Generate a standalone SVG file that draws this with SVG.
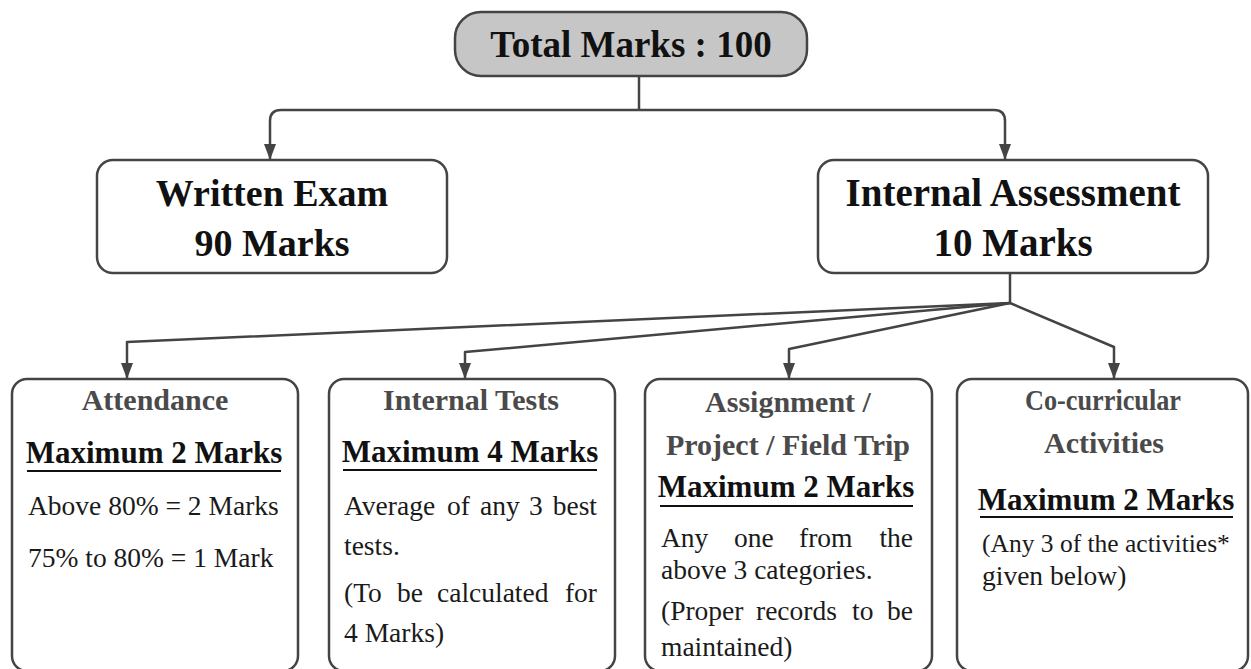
<svg xmlns="http://www.w3.org/2000/svg" width="1251" height="669" viewBox="0 0 1251 669" font-family="'Liberation Serif', 'DejaVu Serif', serif">
<defs>
<style>
text{font-family:'Liberation Serif','DejaVu Serif',serif}
.box{fill:#ffffff;stroke:#444444;stroke-width:2.5}
.top{fill:#c6c6c6;stroke:#444444;stroke-width:2.5}
.t1{font-weight:bold;fill:#111111;text-anchor:middle}
.hd{font-weight:bold;font-size:30px;fill:#4a4a4a;text-anchor:middle}
.mx{font-weight:bold;font-size:31px;fill:#111111;text-anchor:middle}
.bd{font-size:27.5px;fill:#1a1a1a}
.sm{font-size:25.5px}
.ul{stroke:#111111;stroke-width:2.2}
.con{fill:none;stroke:#444444;stroke-width:2.5;stroke-linejoin:round}
</style>
<marker id="arr" markerUnits="userSpaceOnUse" markerWidth="17" markerHeight="16" refX="15" refY="8" orient="auto">
<path d="M0,2 L16,8 L0,14 Z" fill="#444444"/>
</marker>
</defs>
<rect width="1251" height="669" fill="#ffffff"/>

<g id="connectors">
<path class="con" d="M639,76 V110"/>
<path class="con" d="M639,110 H281 Q270,110 270,121 V159" marker-end="url(#arr)"/>
<path class="con" d="M639,110 H994 Q1005,110 1005,121 V159" marker-end="url(#arr)"/>
<path class="con" d="M1010,273 V303"/>
<path class="con" d="M1010,303 L127,342 V378" marker-end="url(#arr)"/>
<path class="con" d="M1010,303 L465,352 V378" marker-end="url(#arr)"/>
<path class="con" d="M1010,303 L789,349 V378" marker-end="url(#arr)"/>
<path class="con" d="M1010,303 L1114,347 V378" marker-end="url(#arr)"/>
</g>

<g id="total">
<rect class="top" x="455" y="12" width="352" height="64" rx="26"/>
<text class="t1" x="631" y="57" font-size="37">Total Marks : 100</text>
</g>

<g id="written">
<rect class="box" x="97" y="160" width="350" height="113" rx="16"/>
<text class="t1" x="272" y="206" font-size="38">Written Exam</text>
<text class="t1" x="272" y="256" font-size="38">90 Marks</text>
</g>

<g id="internal">
<rect class="box" x="818" y="160" width="390" height="113" rx="16"/>
<text class="t1" x="1013" y="206" font-size="39">Internal Assessment</text>
<text class="t1" x="1013" y="256" font-size="39">10 Marks</text>
</g>

<g id="attendance">
<rect class="box" x="12" y="379" width="286" height="292" rx="15"/>
<text class="hd" x="155" y="410">Attendance</text>
<text class="mx" x="154" y="463">Maximum 2 Marks</text>
<line class="ul" x1="27" y1="471" x2="281" y2="471"/>
<text class="bd" x="28" y="515">Above 80% = 2 Marks</text>
<text class="bd" x="28" y="567">75% to 80% = 1 Mark</text>
</g>

<g id="tests">
<rect class="box" x="329" y="379" width="286" height="292" rx="15"/>
<text class="hd" x="471" y="410">Internal Tests</text>
<text class="mx" x="470" y="462">Maximum 4 Marks</text>
<line class="ul" x1="343" y1="470" x2="597" y2="470"/>
<text class="bd" y="515"><tspan x="344">Average</tspan><tspan x="447">of</tspan><tspan x="480">any</tspan><tspan x="529">3</tspan><tspan x="597" text-anchor="end">best</tspan></text>
<text class="bd" x="344" y="555">tests.</text>
<text class="bd" y="602"><tspan x="344">(To</tspan><tspan x="397">be</tspan><tspan x="437">calculated</tspan><tspan x="597" text-anchor="end">for</tspan></text>
<text class="bd" x="344" y="642">4 Marks)</text>
</g>

<g id="assignment">
<rect class="box" x="645" y="379" width="287" height="292" rx="15"/>
<text class="hd" x="788" y="412">Assignment /</text>
<text class="hd" x="788" y="455">Project / Field Trip</text>
<text class="mx" x="786" y="497">Maximum 2 Marks</text>
<line class="ul" x1="660" y1="506" x2="913" y2="506"/>
<text class="bd" y="547"><tspan x="661">Any</tspan><tspan x="734">one</tspan><tspan x="799">from</tspan><tspan x="913" text-anchor="end">the</tspan></text>
<text class="bd" x="661" y="579">above 3 categories.</text>
<text class="bd" y="620"><tspan x="661">(Proper</tspan><tspan x="756">records</tspan><tspan x="852">to</tspan><tspan x="913" text-anchor="end">be</tspan></text>
<text class="bd" x="661" y="656">maintained)</text>
</g>

<g id="cocurricular">
<rect class="box" x="957" y="379" width="291" height="292" rx="15"/>
<text class="hd" x="1103" y="410" textLength="156" lengthAdjust="spacingAndGlyphs">Co-curricular</text>
<text class="hd" x="1104" y="453">Activities</text>
<text class="mx" x="1106" y="510">Maximum 2 Marks</text>
<line class="ul" x1="980" y1="517" x2="1233" y2="517"/>
<text class="bd sm" x="982" y="552">(Any 3 of the activities*</text>
<text class="bd" x="982" y="585">given below)</text>
</g>
</svg>
